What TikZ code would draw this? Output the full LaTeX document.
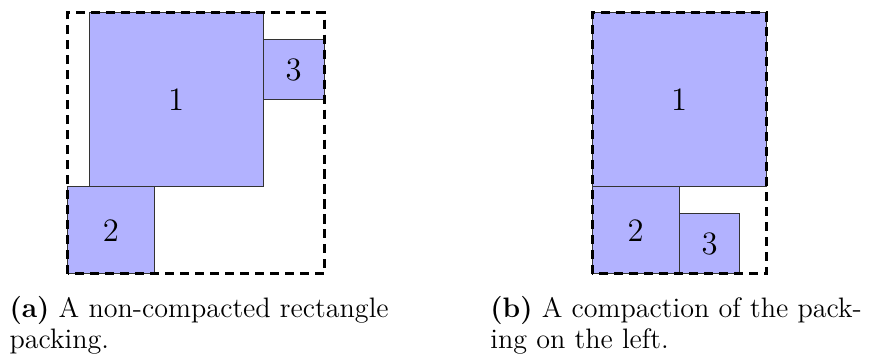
\documentclass[tikz,border=0pt]{standalone}
\usepackage{tikz}

\tikzset{
  item/.style={fill=blue!30,draw=black!80,line width=0.45pt},
  bin/.style={draw=black,line width=1.3pt,dash pattern=on 4pt off 2.6pt},
  lbl/.style={font=\Large},
  capt/.style={font=\fontsize{12.4}{13.6}\selectfont,align=left,anchor=north west,inner sep=0pt}
}

\begin{document}
\begin{tikzpicture}[x=1.347cm,y=1.347cm]
\useasboundingbox (-0.776,-0.966) rectangle (9.466,3.149);
% (a) packing before compaction
\draw[item] (0.25,1) rectangle (2.25,3);
\draw[item] (0,0) rectangle (1,1);
\draw[item] (2.25,2) rectangle (2.95,2.7);
\node[lbl] (a1) at (1.25,2) {1};
\node[lbl] (a2) at (0.5,0.5) {2};
\node[lbl] (a3) at (2.6,2.35) {3};
\draw[bin] (0,0) rectangle (2.95,3);
% (b) compacted packing
\draw[item] (6.03,1) rectangle (8.03,3);
\draw[item] (6.03,0) rectangle (7.03,1);
\draw[item] (7.03,0) rectangle (7.73,0.7);
\node[lbl] (b1) at (7.03,2) {1};
\node[lbl] (b2) at (6.53,0.5) {2};
\node[lbl] (b3) at (7.38,0.35) {3};
\draw[bin] (6.03,0) rectangle (8.03,3);
% captions
\node[capt] (capa) at (-0.672,-0.253) {\textbf{(a)} A non-compacted rectangle\\packing.};
\node[capt] (capb) at (4.856,-0.253) {\textbf{(b)} A compaction of the pack-\\ing on the left.};
\end{tikzpicture}
\end{document}
